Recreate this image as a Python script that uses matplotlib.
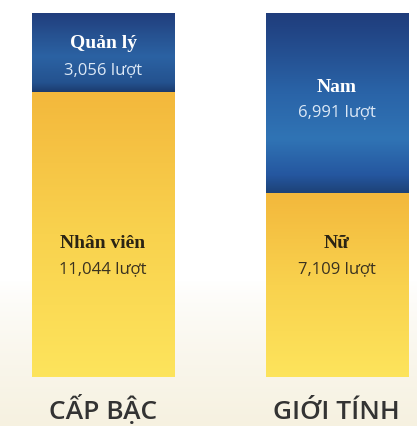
import numpy as np
import matplotlib.pyplot as plt
from matplotlib.colors import LinearSegmentedColormap, to_rgb
from matplotlib.transforms import blended_transform_factory

# ------------------------------------------------
# DATA
# ------------------------------------------------

groups = ['CẤP BẬC', 'GIỚI TÍNH']
top_names = ['Quản lý', 'Nam']
top_values = [3056, 6991]
bottom_names = ['Nhân viên', 'Nữ']
bottom_values = [11044, 7109]
unit = 'lượt'

# ------------------------------------------------
# LAYOUT (pixels)
# ------------------------------------------------

W, H = 417, 426
bar_top_px, bar_bot_px = 13, 377
centers_px = [103, 336.5]
bar_w_px = 142

top_name_y = [44, 87]
top_num_y = [70, 112]
bot_name_y = [243, 243]
bot_num_y = [269, 269]
group_y = 419

sans = ['Open Sans', 'DejaVu Sans']
serif = ['Liberation Serif', 'DejaVu Serif']

fig = plt.figure(figsize=(W/100, H/100), dpi=100)

# ------------------------------------------------
# BACKGROUND (white -> cream at the bottom)
# ------------------------------------------------

bg = fig.add_axes([0, 0, 1, 1])
bg.set_axis_off()
rows = np.arange(H)
t = np.clip((rows-280)/(H-280), 0, 1)**0.8
c0 = np.array(to_rgb('#ffffff'))
c1 = np.array(to_rgb('#f6f1e0'))
img = c0[None, :]*(1-t[:, None]) + c1[None, :]*t[:, None]
bg.imshow(img[:, None, :], extent=(0, 1, 0, 1), aspect='auto', origin='upper')
bg.set_xlim(0, 1)
bg.set_ylim(0, 1)

# ------------------------------------------------
# BARS
# ------------------------------------------------

ax = fig.add_axes([0, (H-bar_bot_px)/H, 1, (bar_bot_px-bar_top_px)/H])
ax.set_axis_off()

x = np.arange(len(groups))
step = centers_px[1]-centers_px[0]
xlim = (-centers_px[0]/step, (W-centers_px[0])/step)
width = bar_w_px/step
total = max(a+b for a, b in zip(top_values, bottom_values))

yellow = LinearSegmentedColormap.from_list('y', ['#fde45c', '#f9d24e', '#f3b83c'])
blues = [
    LinearSegmentedColormap.from_list('b0', [(0, '#1b3b6e'), (0.12, '#24528f'),
                                             (0.45, '#2b62a3'), (0.75, '#26508f'),
                                             (1, '#203d7c')]),
    LinearSegmentedColormap.from_list('b1', [(0, '#1d4277'), (0.1, '#2557a0'),
                                             (0.3, '#3074b5'), (0.55, '#2a64a8'),
                                             (1, '#1f3c7b')]),
]

bot_bars = ax.bar(x, bottom_values, width=width, color='none')
top_bars = ax.bar(x, top_values, bottom=bottom_values, width=width, color='none')

grad = np.linspace(0, 1, 256).reshape(-1, 1)
for i in range(len(groups)):
    for p, cm in [(bot_bars[i], yellow), (top_bars[i], blues[i])]:
        x0, y0 = p.get_x(), p.get_y()
        ax.imshow(grad, cmap=cm, origin='lower', aspect='auto',
                  extent=(x0, x0+p.get_width(), y0, y0+p.get_height()), zorder=2)

ax.set_xlim(*xlim)
ax.set_ylim(0, total)

# ------------------------------------------------
# LABELS
# ------------------------------------------------

tr = blended_transform_factory(ax.transData, fig.transFigure)

def fy(px):
    return (H-px)/H

for i in range(len(groups)):
    ax.text(x[i], fy(top_name_y[i]), top_names[i], transform=tr, ha='center', va='center',
            family=serif, weight='bold', fontsize=14, color='white', zorder=5)
    ax.text(x[i], fy(top_num_y[i]), f'{top_values[i]:,} {unit}', transform=tr, ha='center',
            va='center', family=sans, fontsize=12, color='#dce8f6', zorder=5)
    ax.text(x[i], fy(bot_name_y[i]), bottom_names[i], transform=tr, ha='center', va='center',
            family=serif, weight='bold', fontsize=14, color='#2b2414', zorder=5)
    ax.text(x[i], fy(bot_num_y[i]), f'{bottom_values[i]:,} {unit}', transform=tr, ha='center',
            va='center', family=sans, fontsize=12, color='#3a3220', zorder=5)
    ax.text(x[i], fy(group_y), groups[i], transform=tr, ha='center', va='baseline',
            family=sans, weight='semibold', fontsize=19, color='#333333', zorder=5,
            clip_on=False)

fig.savefig('out.png', dpi=100)
